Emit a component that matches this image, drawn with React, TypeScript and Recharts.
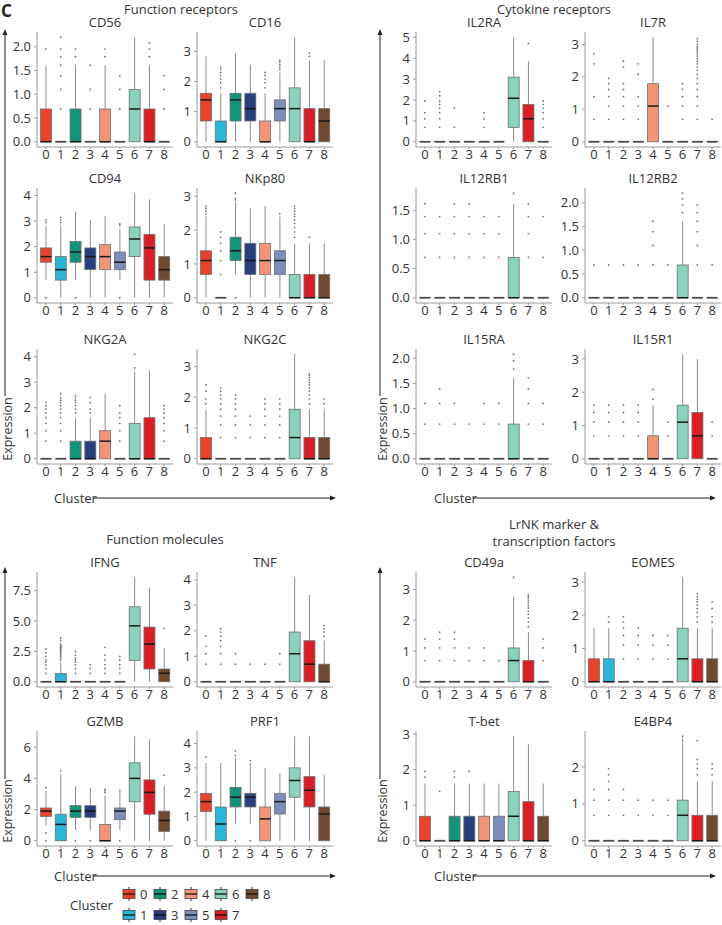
import React from 'react';
import { ComposedChart, Bar, Scatter, XAxis, YAxis } from 'recharts';

const CLUSTERS = ['0', '1', '2', '3', '4', '5', '6', '7', '8'];
const CLUSTER_COLORS = ['#e8422a', '#2ab5d9', '#139379', '#283f7f', '#f39479', '#7b8db8', '#88d2be', '#da1e26', '#6e4b30'];

// each row: [lower whisker, q1, median, q3, upper whisker] for clusters 0..8
const F = [0, 0, 0, 0, 0];
const LOW = [0, 0, 0, 0.69, 1.61];

const CD56_BOX = [LOW, F, LOW, F, LOW, F, [0, 0, 0.69, 1.1, 2.2], LOW, F];
const CD56_OUT = [[1.95], [0.69, 1.1, 1.39, 1.61, 1.79, 1.95, 2.2], [1.79, 1.95], [0.69, 1.1, 1.61], [1.79, 1.95], [0.69, 1.1, 1.39], [], [1.79, 1.95, 2.08], [0.69, 1.1, 1.39]];
const CD56_TICKS = [0, 0.5, 1, 1.5, 2];

const CD16_BOX = [[0, 0.69, 1.39, 1.61, 2.83], LOW, [0, 0.69, 1.39, 1.61, 2.94], [0, 0.69, 1.1, 1.61, 2.56], LOW, [0, 0.69, 1.1, 1.39, 2.3], [0, 0, 1.1, 1.79, 3.47], [0, 0, 0, 1.1, 2.71], [0, 0, 0.69, 1.1, 2.71]];
const CD16_OUT = [[], [1.79, 1.95, 2.08, 2.2, 2.3, 2.4, 2.48], [], [], [1.79, 1.95, 2.08, 2.2, 2.3], [2.4, 2.48, 2.56, 2.64, 2.71], [], [2.83, 2.94], []];
const CD16_TICKS = [0, 1, 2, 3];

const CD94_BOX = [[0.69, 1.39, 1.61, 1.95, 2.83], [0, 0.69, 1.1, 1.61, 2.83], [0.69, 1.39, 1.79, 2.2, 3.37], [0, 1.1, 1.61, 1.95, 3.04], [0, 1.1, 1.61, 2.08, 3.18], [0.69, 1.1, 1.39, 1.79, 2.71], [0, 1.61, 2.3, 2.77, 4.09], [0, 0.69, 1.95, 2.48, 3.85], [0, 0.69, 1.1, 1.61, 2.89]];
const CD94_OUT = [[0, 2.94, 3.04], [2.94, 3.04, 3.14], [0], [], [], [0, 2.83, 2.89], [], [], []];
const CD94_TICKS = [0, 1, 2, 3, 4];

const NKP80_BOX = [[0, 0.69, 1.1, 1.39, 2.4], F, [0.69, 1.1, 1.39, 1.79, 2.83], [0, 0.69, 1.1, 1.61, 2.64], [0, 0.69, 1.1, 1.61, 2.71], [0, 0.69, 1.1, 1.39, 2.4], LOW, LOW, LOW];
const NKP80_OUT = [[2.48, 2.56, 2.64, 2.71], [0.69, 1.1, 1.39, 1.61, 1.79, 1.95], [0, 2.89, 2.94, 3.09], [], [], [2.48], [1.79, 1.95, 2.08, 2.2, 2.3, 2.4, 2.48, 2.56, 2.64, 2.71], [1.79], []];
const NKP80_TICKS = [0, 1, 2, 3];

const NKG2A_BOX = [F, F, LOW, LOW, [0, 0, 0.69, 1.1, 2.56], F, [0, 0, 0, 1.39, 3.4], [0, 0, 0, 1.61, 3.47], F];
const NKG2A_OUT = [[0.69, 1.1, 1.39, 1.61, 1.79, 1.95, 2.08, 2.2], [0.69, 1.1, 1.39, 1.61, 1.79, 1.95, 2.08, 2.2, 2.3, 2.4, 2.56], [1.79, 1.95, 2.08, 2.2, 2.3, 2.4, 2.48], [1.79, 1.95, 2.2, 2.4], [], [0.69, 1.1, 1.39, 1.61, 1.79, 2.08], [3.56, 4.1], [], [0.69, 1.1, 1.39, 1.61, 1.79, 1.95, 2.08]];
const NKG2A_TICKS = [0, 1, 2, 3, 4];

const NKG2C_BOX = [LOW, F, F, F, F, F, [0, 0, 0.69, 1.61, 3.4], LOW, LOW];
const NKG2C_OUT = [[1.79, 1.95, 2.2, 2.4], [0.69, 1.1, 1.39, 1.61, 1.79, 1.95, 2.08, 2.2, 2.3], [0.69, 1.1, 1.39, 1.61, 1.79, 1.95, 2.08], [0.69, 1.1, 1.39], [0.69, 1.1, 1.39, 1.61, 1.79, 1.95], [0.69, 1.1, 1.39, 1.61, 1.79, 1.95], [], [1.79, 1.95, 2.08, 2.2, 2.3, 2.4, 2.48, 2.56, 2.64, 2.71, 2.77], [1.79, 1.95]];
const NKG2C_TICKS = [0, 1, 2, 3];

const IL2RA_BOX = [F, F, F, F, F, F, [0, 0.69, 2.08, 3.09, 5.0], [0, 0, 1.1, 1.79, 3.85], F];
const IL2RA_OUT = [[0.69, 1.1, 1.39, 1.95], [0.69, 1.1, 1.39, 1.61, 1.79, 1.95, 2.2, 2.4], [0.69, 1.61], [], [0.69, 1.1, 1.39], [], [], [4.7], [0.69, 1.1, 1.39, 1.61, 1.79, 1.95]];
const IL2RA_TICKS = [0, 1, 2, 3, 4, 5];

const IL7R_BOX = [F, F, F, F, [0, 0, 1.1, 1.79, 3.22], F, F, F, F];
const IL7R_OUT = [[0.69, 1.39, 2.4, 2.71], [0.69, 1.1, 1.39, 1.61, 1.79, 1.95], [0.69, 1.1, 1.39, 1.61, 1.79, 2.3, 2.48], [0.69, 1.1, 1.39, 2.08, 2.4], [], [1.1], [0.69, 1.1, 1.39, 1.61, 1.79], [0.69, 1.1, 1.39, 1.61, 1.79, 1.95, 2.08, 2.2, 2.3, 2.4, 2.48, 2.56, 2.64, 2.71, 2.77, 2.83, 2.89, 2.94, 3.0, 3.09, 3.18], [0.69]];
const IL7R_TICKS = [0, 1, 2, 3];

const IL12RB1_BOX = [F, F, F, F, F, F, LOW, F, F];
const IL12RB1_OUT = [[0.69, 1.1, 1.39, 1.61], [0.69, 1.1, 1.39], [0.69, 1.1, 1.39, 1.61], [0.69, 1.1, 1.39, 1.61], [0.69, 1.1, 1.39], [0.69, 1.1, 1.39], [1.79], [0.69, 1.1, 1.39, 1.61], [0.69, 1.39]];
const IL12RB1_TICKS = [0, 0.5, 1, 1.5];

const IL12RB2_BOX = [F, F, F, F, F, F, LOW, F, F];
const IL12RB2_OUT = [[0.69], [0.69], [0.69], [0.69], [0.69, 1.1, 1.39, 1.61], [0.69], [1.79, 1.95, 2.08, 2.2], [0.69, 1.1, 1.39, 1.61, 1.79, 1.95], [0.69]];
const IL12RB2_TICKS = [0, 0.5, 1, 1.5, 2];

const IL15RA_BOX = [F, F, F, F, F, F, LOW, F, F];
const IL15RA_OUT = [[0.69, 1.1], [0.69, 1.1, 1.39], [0.69, 1.1], [0.69], [0.69, 1.1], [0.69, 1.1], [1.79, 1.95, 2.08], [0.69, 1.1, 1.39, 1.61], [0.69, 1.1]];
const IL15RA_TICKS = [0, 0.5, 1, 1.5, 2];

const IL15R1_BOX = [F, F, F, F, LOW, F, [0, 0, 1.1, 1.61, 3.14], [0, 0, 0.69, 1.39, 2.99], F];
const IL15R1_OUT = [[0.69, 1.1, 1.39, 1.61], [0.69, 1.1, 1.39, 1.61], [0.69, 1.1, 1.39, 1.61], [0.69, 1.1, 1.39, 1.61], [1.79, 2.08], [0.69, 1.1], [], [], [0.69, 1.1]];
const IL15R1_TICKS = [0, 1, 2, 3];

const IFNG_BOX = [F, LOW, F, F, F, F, [0, 1.75, 4.6, 6.17, 8.6], [0, 1.05, 3.1, 4.5, 7.75], [0, 0, 0.7, 1.05, 2.75]];
const IFNG_OUT = [[0.69, 1.1, 1.39, 1.61, 1.79, 2.08, 2.4, 2.7], [1.79, 1.95, 2.08, 2.2, 2.3, 2.4, 2.48, 2.56, 2.64, 2.71, 2.77, 2.83, 2.89, 2.94, 3.0, 3.09, 3.4, 3.6], [0.69, 1.1, 1.39, 1.61, 1.79, 1.95, 2.2, 2.48], [0.69, 1.1, 1.39], [0.69, 1.1, 1.39, 1.79, 2.2, 2.83], [0.69, 1.1, 1.39, 1.79, 2.08], [], [], [4.4]];
const IFNG_TICKS = [0, 2.5, 5, 7.5];

const TNF_BOX = [F, F, F, F, F, F, [0, 0, 1.1, 1.95, 4.1], [0, 0, 0.69, 1.61, 3.4], LOW];
const TNF_OUT = [[0.69, 1.1, 1.39, 1.79], [0.69, 1.1, 1.39, 1.61, 1.79, 1.95, 2.08], [0.69, 1.1], [0.69], [0.69], [0.69, 1.1], [], [], [1.79, 1.95, 2.08, 2.2]];
const TNF_TICKS = [0, 1, 2, 3, 4];

const GZMB_BOX = [[1.0, 1.55, 1.9, 2.1, 3.2], [0, 0, 1.05, 1.7, 4.3], [0.69, 1.5, 1.9, 2.25, 3.5], [0.69, 1.5, 1.9, 2.25, 3.4], [0, 0, 0, 1.05, 2.9], [0.69, 1.35, 1.9, 2.1, 3.3], [0, 2.5, 4.0, 5.0, 6.7], [0, 1.7, 3.1, 3.9, 6.5], [0, 0.6, 1.3, 1.9, 3.5]];
const GZMB_OUT = [[0, 0.5, 3.4], [4.5], [0], [0], [3.1, 3.2, 3.3], [0], [], [], [4.2]];
const GZMB_TICKS = [0, 2, 4, 6];

const PRF1_BOX = [[0, 1.2, 1.61, 1.95, 3.2], [0, 0, 0.69, 1.39, 3.2], [0.69, 1.39, 1.79, 2.2, 3.4], [0.69, 1.39, 1.79, 1.95, 3.2], [0, 0, 0.9, 1.39, 3.0], [0, 1.1, 1.61, 1.95, 2.77], [0, 1.79, 2.48, 3.0, 4.3], [0, 1.39, 2.08, 2.64, 4.3], [0, 0, 1.1, 1.39, 2.71]];
const PRF1_OUT = [[3.45], [], [0, 3.5, 3.7], [0, 3.3], [], [], [], [], []];
const PRF1_TICKS = [0, 1, 2, 3, 4];

const CD49A_BOX = [F, F, F, F, F, F, [0, 0, 0.69, 1.1, 2.77], LOW, F];
const CD49A_OUT = [[0.69, 1.1, 1.39], [0.69, 1.1, 1.39, 1.61], [0.69, 1.1, 1.39, 1.61], [0.69, 1.1], [0.69, 1.1], [0.69], [3.4], [1.79, 1.95, 2.08, 2.2, 2.3, 2.4, 2.48, 2.56, 2.64, 2.71, 2.77, 2.83], [0.69, 1.1, 1.39]];
const CD49A_TICKS = [0, 1, 2, 3];

const EOMES_BOX = [LOW, LOW, F, F, F, F, [0, 0, 0.69, 1.61, 3.14], LOW, LOW];
const EOMES_OUT = [[], [1.79, 1.95], [0.69, 1.1, 1.39, 1.61, 1.79, 1.95], [0.69, 1.1, 1.39, 1.61], [0.69, 1.1, 1.39], [0.69, 1.1, 1.39], [], [1.79, 1.95, 2.08, 2.2, 2.3, 2.4, 2.48, 2.56, 2.64], [1.79, 1.95, 2.2, 2.4]];
const EOMES_TICKS = [0, 1, 2, 3];

const TBET_BOX = [LOW, F, LOW, LOW, LOW, LOW, [0, 0, 0.69, 1.39, 2.94], [0, 0, 0, 1.1, 2.71], LOW];
const TBET_OUT = [[1.79, 1.95], [1.39], [1.79, 1.95], [1.95], [], [], [], [], []];
const TBET_TICKS = [0, 1, 2, 3];

const E4BP4_BOX = [F, F, F, F, F, F, [0, 0, 0.69, 1.1, 2.77], LOW, LOW];
const E4BP4_OUT = [[0.69, 1.1, 1.39], [0.69, 1.1, 1.39, 1.61, 1.79, 1.95], [0.69, 1.1, 1.39], [0.69, 1.1], [0.69, 1.1], [0.69, 1.1], [2.83], [1.79, 1.95, 2.08, 2.2, 2.71], [1.79, 1.95, 2.08]];
const E4BP4_TICKS = [0, 1, 2];

// layout
const FONT = '"Open Sans", "Noto Sans", sans-serif';
const Y_W = 34;
const PLOT_W = 136;
const PLOT_H = 115;
const X_H = 20;
const TOP_M = 8;
const COLS = [37, 197, 416, 585];
const ROWS = [32, 188, 349, 572, 731];

const PANELS = [
  { gene: 'CD56', box: CD56_BOX, out: CD56_OUT, ticks: CD56_TICKS, col: 0, row: 0 },
  { gene: 'CD16', box: CD16_BOX, out: CD16_OUT, ticks: CD16_TICKS, col: 1, row: 0 },
  { gene: 'CD94', box: CD94_BOX, out: CD94_OUT, ticks: CD94_TICKS, col: 0, row: 1 },
  { gene: 'NKp80', box: NKP80_BOX, out: NKP80_OUT, ticks: NKP80_TICKS, col: 1, row: 1 },
  { gene: 'NKG2A', box: NKG2A_BOX, out: NKG2A_OUT, ticks: NKG2A_TICKS, col: 0, row: 2 },
  { gene: 'NKG2C', box: NKG2C_BOX, out: NKG2C_OUT, ticks: NKG2C_TICKS, col: 1, row: 2 },
  { gene: 'IL2RA', box: IL2RA_BOX, out: IL2RA_OUT, ticks: IL2RA_TICKS, col: 2, row: 0 },
  { gene: 'IL7R', box: IL7R_BOX, out: IL7R_OUT, ticks: IL7R_TICKS, col: 3, row: 0 },
  { gene: 'IL12RB1', box: IL12RB1_BOX, out: IL12RB1_OUT, ticks: IL12RB1_TICKS, col: 2, row: 1 },
  { gene: 'IL12RB2', box: IL12RB2_BOX, out: IL12RB2_OUT, ticks: IL12RB2_TICKS, col: 3, row: 1 },
  { gene: 'IL15RA', box: IL15RA_BOX, out: IL15RA_OUT, ticks: IL15RA_TICKS, col: 2, row: 2 },
  { gene: 'IL15R1', box: IL15R1_BOX, out: IL15R1_OUT, ticks: IL15R1_TICKS, col: 3, row: 2 },
  { gene: 'IFNG', box: IFNG_BOX, out: IFNG_OUT, ticks: IFNG_TICKS, col: 0, row: 3 },
  { gene: 'TNF', box: TNF_BOX, out: TNF_OUT, ticks: TNF_TICKS, col: 1, row: 3 },
  { gene: 'GZMB', box: GZMB_BOX, out: GZMB_OUT, ticks: GZMB_TICKS, col: 0, row: 4 },
  { gene: 'PRF1', box: PRF1_BOX, out: PRF1_OUT, ticks: PRF1_TICKS, col: 1, row: 4 },
  { gene: 'CD49a', box: CD49A_BOX, out: CD49A_OUT, ticks: CD49A_TICKS, col: 2, row: 3 },
  { gene: 'EOMES', box: EOMES_BOX, out: EOMES_OUT, ticks: EOMES_TICKS, col: 3, row: 3 },
  { gene: 'T-bet', box: TBET_BOX, out: TBET_OUT, ticks: TBET_TICKS, col: 2, row: 4 },
  { gene: 'E4BP4', box: E4BP4_BOX, out: E4BP4_OUT, ticks: E4BP4_TICKS, col: 3, row: 4 },
];

// box + whisker drawn inside the [lower, upper] range bar
function BoxShape(props: any) {
  const { x, y, width, height, payload } = props;
  const [lo, q1, med, q3, hi] = payload.stats as number[];
  const span = hi - lo;
  const at = (v: number) => (span > 0 ? y + (height * (hi - v)) / span : y);
  const cx = x + width / 2;
  const flat = q3 - q1 <= 0;
  return (
    <g>
      {span > 0 && <line x1={cx} x2={cx} y1={at(hi)} y2={at(lo)} stroke="#8c8c8c" strokeWidth={1} />}
      {!flat && (
        <rect x={x} y={at(q3)} width={width} height={at(q1) - at(q3)} fill={payload.fill} stroke="#707070" strokeWidth={0.8} />
      )}
      <line
        x1={x}
        x2={x + width}
        y1={at(med)}
        y2={at(med)}
        stroke={flat ? '#4a4a4a' : '#1a1a1a'}
        strokeWidth={flat ? 1.8 : 1.5}
      />
    </g>
  );
}

const OutlierDot = (p: any) => <circle cx={p.cx} cy={p.cy} r={0.9} fill="#777" />;

function Panel({ box, out, ticks, col, row }: any) {
  const data = CLUSTERS.map((c, i) => ({ c, range: [box[i][0], box[i][4]], stats: box[i], fill: CLUSTER_COLORS[i] }));
  const points = out.flatMap((vals: number[], i: number) => vals.map((v) => ({ c: CLUSTERS[i], v })));
  const maxVal = Math.max(...box.map((b: number[]) => b[4]), ...points.map((p: any) => p.v));
  const pad = maxVal * 0.05;
  const decimals = ticks.some((t: number) => !Number.isInteger(t)) ? 1 : 0;
  return (
    <div style={{ position: 'absolute', left: COLS[col] - Y_W, top: ROWS[row] - TOP_M }}>
      <ComposedChart width={Y_W + PLOT_W} height={TOP_M + PLOT_H + X_H} data={data} margin={{ top: TOP_M, right: 0, bottom: 0, left: 0 }}>
        <XAxis
          dataKey="c"
          type="category"
          allowDuplicatedCategory={false}
          interval={0}
          height={X_H}
          padding={{ left: 1.5, right: 1.5 }}
          axisLine={{ stroke: '#9a9a9a' }}
          tickLine={{ stroke: '#9a9a9a' }}
          tickSize={2}
          tickMargin={1}
          tick={{ fill: '#333', fontSize: 13 }}
        />
        <YAxis
          type="number"
          width={Y_W}
          domain={[-pad, maxVal + pad]}
          allowDataOverflow
          ticks={ticks}
          interval={0}
          tickFormatter={(v: number) => v.toFixed(decimals)}
          axisLine={{ stroke: '#9a9a9a' }}
          tickLine={{ stroke: '#9a9a9a' }}
          tickSize={3}
          tickMargin={3}
          tick={{ fill: '#333', fontSize: 13 }}
        />
        <Bar dataKey="range" barSize={11} shape={BoxShape} isAnimationActive={false} />
        <Scatter data={points} dataKey="v" shape={OutlierDot} isAnimationActive={false} />
      </ComposedChart>
    </div>
  );
}

function UpArrow({ x, top, bottom, labelY }: { x: number; top: number; bottom: number; labelY: number }) {
  return (
    <g>
      <line x1={x} x2={x} y1={bottom} y2={top + 4} stroke="#222" strokeWidth={1} />
      <polygon points={`${x},${top} ${x - 2.5},${top + 6} ${x + 2.5},${top + 6}`} fill="#222" />
      <text x={x + 2} y={labelY} transform={`rotate(-90 ${x + 2} ${labelY})`} textAnchor="middle" dominantBaseline="central" fontSize={12.5} fill="#333">
        Expression
      </text>
    </g>
  );
}

function RightArrow({ textX, x1, x2, y }: { textX: number; x1: number; x2: number; y: number }) {
  return (
    <g>
      <text x={textX} y={y} dominantBaseline="central" fontSize={13} fill="#333">
        Cluster
      </text>
      <line x1={x1} x2={x2 - 4} y1={y} y2={y} stroke="#222" strokeWidth={1} />
      <polygon points={`${x2},${y} ${x2 - 6},${y - 2.5} ${x2 - 6},${y + 2.5}`} fill="#222" />
    </g>
  );
}

const LEGEND_X = [123, 154, 185, 215, 246];

function LegendKey({ x, y, color, label }: { x: number; y: number; color: string; label: string }) {
  return (
    <g>
      <line x1={x + 6} x2={x + 6} y1={y - 7} y2={y + 7} stroke="#333" strokeWidth={1} />
      <rect x={x} y={y - 4.5} width={12} height={9} fill={color} stroke="#444" strokeWidth={0.8} />
      <line x1={x} x2={x + 12} y1={y} y2={y} stroke="#111" strokeWidth={1.3} />
      <text x={x + 17} y={y} dominantBaseline="central" fontSize={13} fill="#333">
        {label}
      </text>
    </g>
  );
}

export default function App() {
  const txt = { fontSize: 13, fill: '#333', textAnchor: 'middle' as const, dominantBaseline: 'central' as const };
  return (
    <div style={{ position: 'absolute', left: 0, top: 0, width: 722, height: 925, overflow: 'hidden', background: '#fff', fontFamily: FONT }}>
      {PANELS.map((p) => (
        <Panel key={p.gene} {...p} />
      ))}
      <svg width={722} height={925} style={{ position: 'absolute', left: 0, top: 0, pointerEvents: 'none' }} fontFamily={FONT}>
        <text x={1} y={10} fontSize={17} fontWeight={700} fill="#222" dominantBaseline="central">
          C
        </text>
        <text x={181} y={9} {...txt}>Function receptors</text>
        <text x={554} y={9} {...txt}>Cytokine receptors</text>
        <text x={165} y={539} {...txt}>Function molecules</text>
        <text x={554} y={524} {...txt}>LrNK marker &amp;</text>
        <text x={554} y={541} {...txt}>transcription factors</text>
        {PANELS.map((p) => (
          <text key={p.gene} x={COLS[p.col] + PLOT_W / 2} y={ROWS[p.row] - 10} {...txt}>
            {p.gene}
          </text>
        ))}
        <UpArrow x={5} top={29} bottom={396} labelY={429} />
        <UpArrow x={380} top={29} bottom={396} labelY={429} />
        <UpArrow x={5} top={567} bottom={779} labelY={811} />
        <UpArrow x={380} top={567} bottom={779} labelY={811} />
        <RightArrow textX={54} x1={93} x2={336} y={498} />
        <RightArrow textX={434} x1={473} x2={716} y={498} />
        <RightArrow textX={54} x1={93} x2={336} y={876} />
        <RightArrow textX={434} x1={473} x2={716} y={876} />
        <text x={70} y={905} fontSize={13} fill="#333" dominantBaseline="central">
          Cluster
        </text>
        {CLUSTERS.map((c, i) => (
          <LegendKey
            key={c}
            x={LEGEND_X[Math.floor(i / 2)]}
            y={i % 2 === 0 ? 894 : 915}
            color={CLUSTER_COLORS[i]}
            label={c}
          />
        ))}
      </svg>
    </div>
  );
}
